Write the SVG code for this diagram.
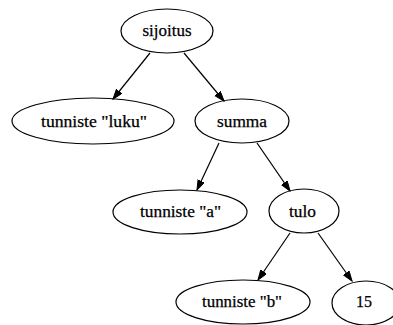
<svg xmlns="http://www.w3.org/2000/svg" width="393" height="325" viewBox="0 0 393 325">
<style>
.n ellipse{fill:none;stroke:#000;stroke-width:1.2}
.n text{font-family:"Liberation Serif","Times New Roman",serif;font-size:16px;text-anchor:middle;fill:#000;stroke:#000;stroke-width:0.25}
.e line{stroke:#000;stroke-width:1.2;marker-end:url(#ah)}
</style>
<defs>
<marker id="ah" markerUnits="userSpaceOnUse" markerWidth="11" markerHeight="8" refX="10" refY="3.5" orient="auto">
<path d="M0,0 L10,3.5 L0,7 z" fill="#000" stroke="#000" stroke-width="1"/>
</marker>
</defs>
<rect width="393" height="325" fill="#fff"/>
<g id="edges" class="e">
<line x1="150" y1="53" x2="113" y2="99"/>
<line x1="184" y1="53" x2="224" y2="101"/>
<line x1="219" y1="143" x2="197" y2="190"/>
<line x1="257" y1="143" x2="290" y2="191"/>
<line x1="290" y1="233" x2="258" y2="280"/>
<line x1="318" y1="233" x2="352" y2="281"/>
</g>
<g id="sijoitus" class="n"><ellipse cx="167" cy="31" rx="46" ry="22"/><text x="167" y="36" textLength="49" lengthAdjust="spacingAndGlyphs">sijoitus</text></g>
<g id="luku" class="n"><ellipse cx="93" cy="121" rx="81" ry="23"/><text x="94" y="127" textLength="106" lengthAdjust="spacingAndGlyphs">tunniste "luku"</text></g>
<g id="summa" class="n"><ellipse cx="242" cy="121" rx="47" ry="22"/><text x="242" y="127" textLength="50" lengthAdjust="spacingAndGlyphs">summa</text></g>
<g id="a" class="n"><ellipse cx="180" cy="212" rx="67" ry="22"/><text x="180.5" y="217" textLength="81" lengthAdjust="spacingAndGlyphs">tunniste "a"</text></g>
<g id="tulo" class="n"><ellipse cx="304" cy="211" rx="35" ry="22"/><text x="302.5" y="217" textLength="27" lengthAdjust="spacingAndGlyphs">tulo</text></g>
<g id="b" class="n"><ellipse cx="243" cy="302" rx="67" ry="22"/><text x="242" y="307" textLength="80" lengthAdjust="spacingAndGlyphs">tunniste "b"</text></g>
<g id="n15" class="n"><ellipse cx="366" cy="303" rx="34" ry="22"/><text x="364" y="307" textLength="16" lengthAdjust="spacingAndGlyphs">15</text></g>
</svg>
